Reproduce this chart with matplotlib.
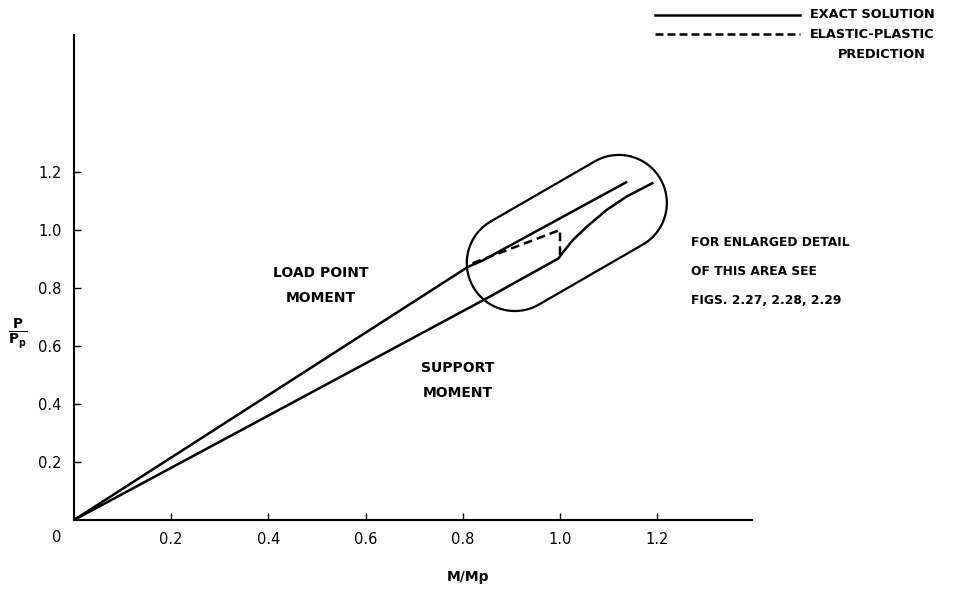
import numpy as np
import matplotlib.pyplot as plt
from matplotlib.lines import Line2D

# load point moment (exact solution)
load_m = [0.0, 0.81, 0.84, 1.138]
load_p = [0.0, 0.872, 0.894, 1.166]

# support moment (exact solution)
supp_m = [0.0, 0.85, 0.997, 1.007, 1.027, 1.055, 1.096, 1.137, 1.192]
supp_p = [0.0, 0.765, 0.902, 0.925, 0.966, 1.011, 1.069, 1.115, 1.163]

# elastic-plastic prediction
pred_m = [0.82, 1.0, 1.0]
pred_p = [0.885, 1.0, 0.9]

ticks = [0.2, 0.4, 0.6, 0.8, 1.0, 1.2]
tick_labels = ['0.2', '0.4', '0.6', '0.8', '1.0', '1.2']

# ends of the outline drawn round the yield region
cap_c1 = (0.907, 0.886)
cap_c2 = (1.121, 1.093)
cap_r = 0.0988  # in M/Mp units


def capsule(ax, c1, c2, r):
    # build the outline in pixels so the ends come out round
    t = ax.transData
    p1 = t.transform(c1)
    p2 = t.transform(c2)
    rp = t.transform((c1[0] + r, c1[1]))[0] - p1[0]
    d = p2 - p1
    a = np.arctan2(d[1], d[0])
    th1 = np.linspace(a + np.pi / 2, a + 3 * np.pi / 2, 60)
    th2 = np.linspace(a - np.pi / 2, a + np.pi / 2, 60)
    pts1 = np.c_[p1[0] + rp * np.cos(th1), p1[1] + rp * np.sin(th1)]
    pts2 = np.c_[p2[0] + rp * np.cos(th2), p2[1] + rp * np.sin(th2)]
    pts = np.vstack([pts1, pts2, pts1[:1]])
    return t.inverted().transform(pts)


def main():
    fig = plt.figure(figsize=(9.57, 5.94), dpi=100)
    ax = fig.add_axes([74 / 957, 74 / 594, 678 / 957, 485 / 594])
    ax.set_xlim(0, 1.395)
    ax.set_ylim(0, 1.672)

    for s in ['top', 'right']:
        ax.spines[s].set_visible(False)
    for s in ['left', 'bottom']:
        ax.spines[s].set_linewidth(1.5)

    ax.set_xticks(ticks)
    ax.set_xticklabels(tick_labels)
    ax.set_yticks(ticks)
    ax.set_yticklabels(tick_labels)
    ax.tick_params(direction='in', length=5, width=1.0, labelsize=10.5, pad=9)

    ax.plot(load_m, load_p, color='black', lw=1.8, solid_capstyle='butt')
    ax.plot(supp_m, supp_p, color='black', lw=1.8, solid_capstyle='butt')
    ax.plot(pred_m, pred_p, color='black', lw=1.8, ls=(0, (3.5, 2)))

    cx = capsule(ax, cap_c1, cap_c2, cap_r)
    ax.plot(cx[:, 0], cx[:, 1], color='black', lw=1.6)

    bw = 'bold'
    ax.text(0.508, 0.852, 'LOAD POINT', fontsize=10, weight=bw, ha='center', va='center')
    ax.text(0.508, 0.766, 'MOMENT', fontsize=10, weight=bw, ha='center', va='center')
    ax.text(0.79, 0.524, 'SUPPORT', fontsize=10, weight=bw, ha='center', va='center')
    ax.text(0.79, 0.438, 'MOMENT', fontsize=10, weight=bw, ha='center', va='center')
    ax.text(1.27, 0.955, 'FOR ENLARGED DETAIL', fontsize=8.8, weight=bw, va='center')
    ax.text(1.27, 0.855, 'OF THIS AREA SEE', fontsize=8.8, weight=bw, va='center')
    ax.text(1.27, 0.758, 'FIGS. 2.27, 2.28, 2.29', fontsize=8.8, weight=bw, va='center')

    fig.text(57 / 957, 1 - 538 / 594, '0', fontsize=10.5, ha='center', va='center')
    fig.text(468 / 957, 1 - 577 / 594, 'M/Mp', fontsize=10, weight=bw,
             ha='center', va='center')
    fig.text(18 / 957, 1 - 334 / 594, r'$\frac{\mathbf{P}}{\mathbf{P_p}}$',
             fontsize=14, ha='center', va='center')

    # key in the top right corner
    fig.add_artist(Line2D([655 / 957, 800 / 957], [1 - 15 / 594] * 2,
                          color='black', lw=1.8))
    fig.add_artist(Line2D([655 / 957, 800 / 957], [1 - 34 / 594] * 2,
                          color='black', lw=1.8, ls=(0, (3.2, 1.6))))
    fig.text(810 / 957, 1 - 15 / 594, 'EXACT SOLUTION', fontsize=9.3, weight=bw,
             va='center')
    fig.text(810 / 957, 1 - 34 / 594, 'ELASTIC-PLASTIC', fontsize=9.3, weight=bw,
             va='center')
    fig.text(882 / 957, 1 - 55 / 594, 'PREDICTION', fontsize=9.3, weight=bw,
             va='center', ha='center')

    fig.savefig('out.png', dpi=100)


if __name__ == "__main__":
    main()
